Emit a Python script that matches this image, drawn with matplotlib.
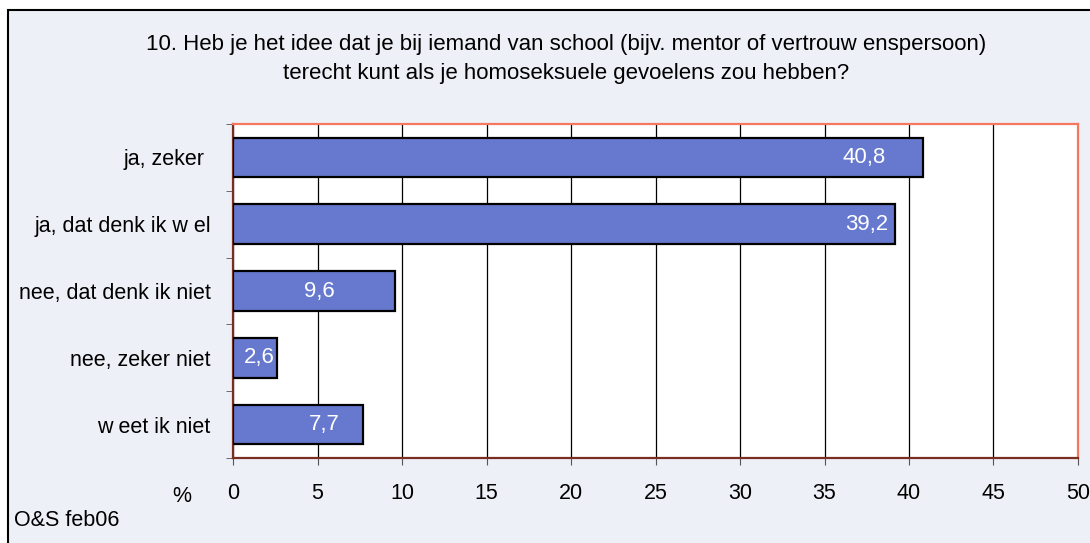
import matplotlib
matplotlib.use("Agg")
import matplotlib.pyplot as plt
from matplotlib.patches import Rectangle

plt.rcParams['font.family'] = ['Liberation Sans', 'DejaVu Sans']

categories = ["ja, zeker ", "ja, dat denk ik w el", "nee, dat denk ik niet",
              "nee, zeker niet", "w eet ik niet"]
values = [40.8, 39.2, 9.6, 2.6, 7.7]
value_labels = ["40,8", "39,2", "9,6", "2,6", "7,7"]
x_ticks = [0, 5, 10, 15, 20, 25, 30, 35, 40, 45, 50]
title = ("10. Heb je het idee dat je bij iemand van school (bijv. mentor of vertrouw enspersoon)\n"
         "terecht kunt als je homoseksuele gevoelens zou hebben?")

W, H = 1090, 543
fig = plt.figure(figsize=(W / 100, H / 100), dpi=100)
fig.patch.set_facecolor("white")
bg = "#EEF0F8"
fig.patches.append(Rectangle((8 / W, -0.2), 1.2, 1.2 - 10 / H, transform=fig.transFigure,
                             facecolor=bg, edgecolor="black", linewidth=1.5, zorder=-10))

ax = fig.add_axes([233 / W, 1 - 458 / H, (1078 - 233) / W, (458 - 124) / H])
ax.set_facecolor("white")

ypos = list(range(len(categories)))
ax.barh(ypos, values, height=0.59, color="#6679CF", edgecolor="black", linewidth=1.6, zorder=3)
ax.set_ylim(len(categories) - 0.5, -0.5)
ax.set_xlim(0, 50)

fs = 15.5
pads = [2.2, 0.4, 3.6, 0.15, 1.4]
for y, v, lab, p in zip(ypos, values, value_labels, pads):
    ax.text(v - p, y, lab, ha="right", va="center", color="white", fontsize=16, zorder=4)

ax.set_xticks(x_ticks)
ax.set_xticklabels([str(t) for t in x_ticks], fontsize=fs)
ax.set_yticks(ypos)
ax.set_yticklabels(categories, fontsize=fs)
ax.tick_params(axis="y", length=0, pad=16)
ax.set_yticks([i - 0.5 for i in range(len(categories) + 1)], minor=True)
ax.tick_params(axis="y", which="minor", length=5, color="#555555", direction="out")
ax.tick_params(axis="x", length=5, color="#555555", direction="out", pad=13)
ax.grid(axis="x", color="black", linewidth=0.9, zorder=1)

for side in ("top", "right"):
    ax.spines[side].set_color("#F4775E")
    ax.spines[side].set_linewidth(1.6)
for side in ("left", "bottom"):
    ax.spines[side].set_color("#7A2E20")
    ax.spines[side].set_linewidth(1.6)

fig.text(566 / W, 1 - 59 / H, title, ha="center", va="center", fontsize=16, linespacing=1.5)
fig.text(182 / W, 1 - 497 / H, "%", ha="center", va="center", fontsize=fs)
fig.text(14 / W, 1 - 521 / H, "O&S feb06", ha="left", va="center", fontsize=fs)

fig.savefig("out.png", dpi=100, facecolor=fig.get_facecolor())
